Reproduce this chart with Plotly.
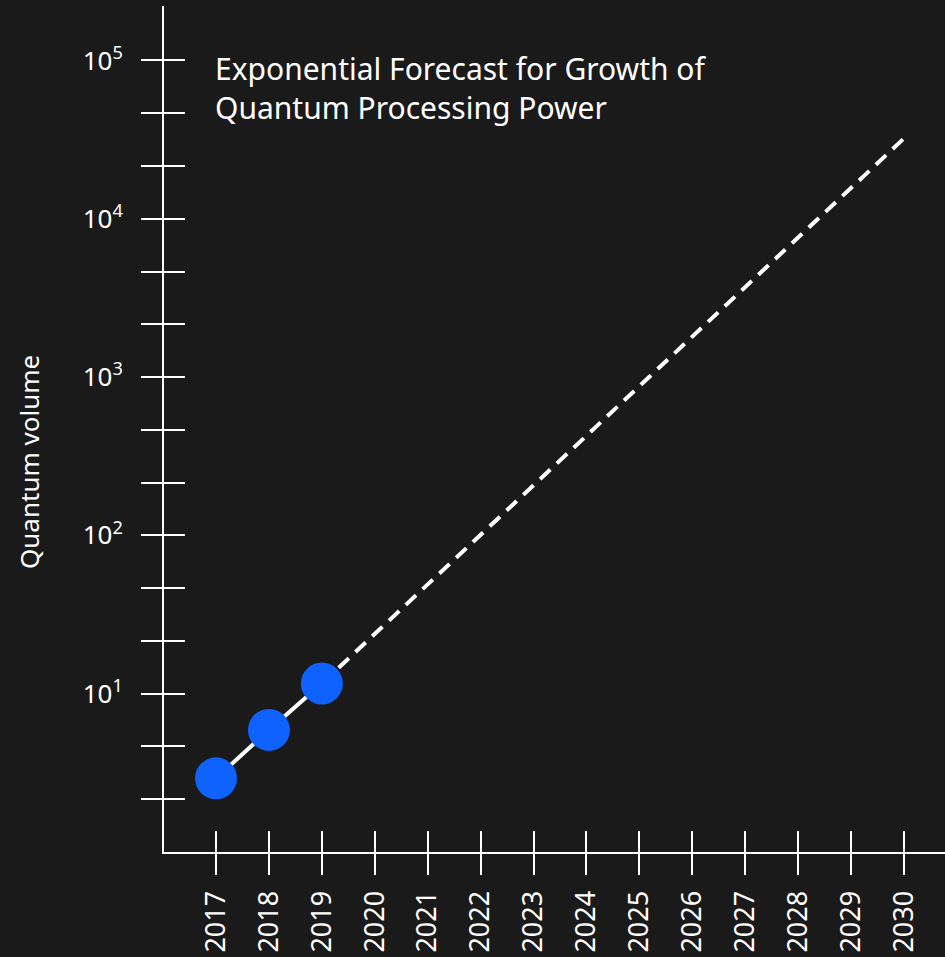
import plotly.graph_objects as go

# Measured quantum volume (IBM systems) and the exponential forecast
years_actual = [2017, 2018, 2019]
qv_actual = [2.92, 5.9, 11.6]

years_forecast = [2019, 2030]
qv_forecast = [11.6, 32200]

year_ticks = list(range(2017, 2031))

# labelled ticks at the powers of ten, unlabelled ones every third of a decade
decades = [1, 2, 3, 4, 5]
y_major_vals = [10 ** d for d in decades]
y_major_text = [f"10<sup>{d}</sup>" for d in decades]
y_minor_vals = [10 ** (k / 3) for k in range(1, 16) if k % 3 != 0]

title_lines = ["Exponential Forecast for Growth of", "Quantum Processing Power"]

BG = "#1a1a1a"
FG = "#ffffff"
BLUE = "#0f62fe"
FONT = "Noto Sans"

W, H = 945, 957
ML, MR, MT, MB = 164, 0, 6, 105
PW, PH = W - ML - MR, H - MT - MB

fig = go.Figure()

fig.add_trace(go.Scatter(
    x=years_forecast, y=qv_forecast, mode="lines",
    line=dict(color=FG, width=4, dash="14px,9px"),
    hoverinfo="skip", showlegend=False,
))
fig.add_trace(go.Scatter(
    x=years_actual, y=qv_actual, mode="lines+markers",
    line=dict(color=FG, width=4),
    marker=dict(color=BLUE, size=42, line=dict(width=0)),
    showlegend=False,
))
# empty trace that carries the second (inward-tick) pair of axes
fig.add_trace(go.Scatter(x=[], y=[], xaxis="x2", yaxis="y2",
                         showlegend=False, hoverinfo="skip"))

x_range = [2016.017, 2030.775]
y_range = [0, 5.344]

common = dict(showgrid=False, zeroline=False, tickcolor=FG, tickwidth=2, ticklen=21)


def minor_ticks(side):
    return dict(tickmode="array", tickvals=y_minor_vals, ticks=side,
                ticklen=21, tickwidth=2, tickcolor=FG, showgrid=False)


def px_x(px):
    return (px - ML) / PW


def px_y(py):
    return (H - MB - py) / PH


fig.update_layout(
    width=W, height=H,
    margin=dict(l=ML, r=MR, t=MT, b=MB, pad=0),
    paper_bgcolor=BG, plot_bgcolor=BG,
    font=dict(family=FONT, color=FG),
    xaxis=dict(
        range=x_range, tickmode="array", tickvals=year_ticks,
        ticktext=[str(y) for y in year_ticks], tickangle=-90,
        ticks="outside", showline=True, linecolor=FG, linewidth=2,
        tickfont=dict(size=27, color=FG, family=FONT), ticklabelstandoff=5,
        **common,
    ),
    xaxis2=dict(
        range=x_range, overlaying="x", anchor="y2", side="bottom",
        tickmode="array", tickvals=year_ticks, ticks="inside",
        showticklabels=False, showline=False, **common,
    ),
    yaxis=dict(
        type="log", range=y_range, tickmode="array",
        tickvals=y_major_vals, ticktext=y_major_text,
        ticks="outside", showline=True, linecolor=FG, linewidth=2,
        tickfont=dict(size=26, color=FG, family=FONT), ticklabelstandoff=13,
        minor=minor_ticks("outside"),
        **common,
    ),
    yaxis2=dict(
        type="log", range=y_range, overlaying="y", anchor="x2", side="left",
        tickmode="array", tickvals=y_major_vals, ticks="inside",
        showticklabels=False, showline=False,
        minor=minor_ticks("inside"),
        **common,
    ),
    annotations=[
        dict(
            text="<br>".join(title_lines), xref="paper", yref="paper",
            x=px_x(213), y=px_y(88), xanchor="left", yanchor="middle",
            align="left", showarrow=False,
            font=dict(size=30, color=FG, family=FONT),
        ),
        dict(
            text="Quantum volume", textangle=-90,
            xref="paper", yref="paper", x=px_x(29), y=px_y(462),
            xanchor="center", yanchor="middle",
            showarrow=False, font=dict(size=26, color=FG, family=FONT),
        ),
    ],
)

fig.write_html("out.html")
